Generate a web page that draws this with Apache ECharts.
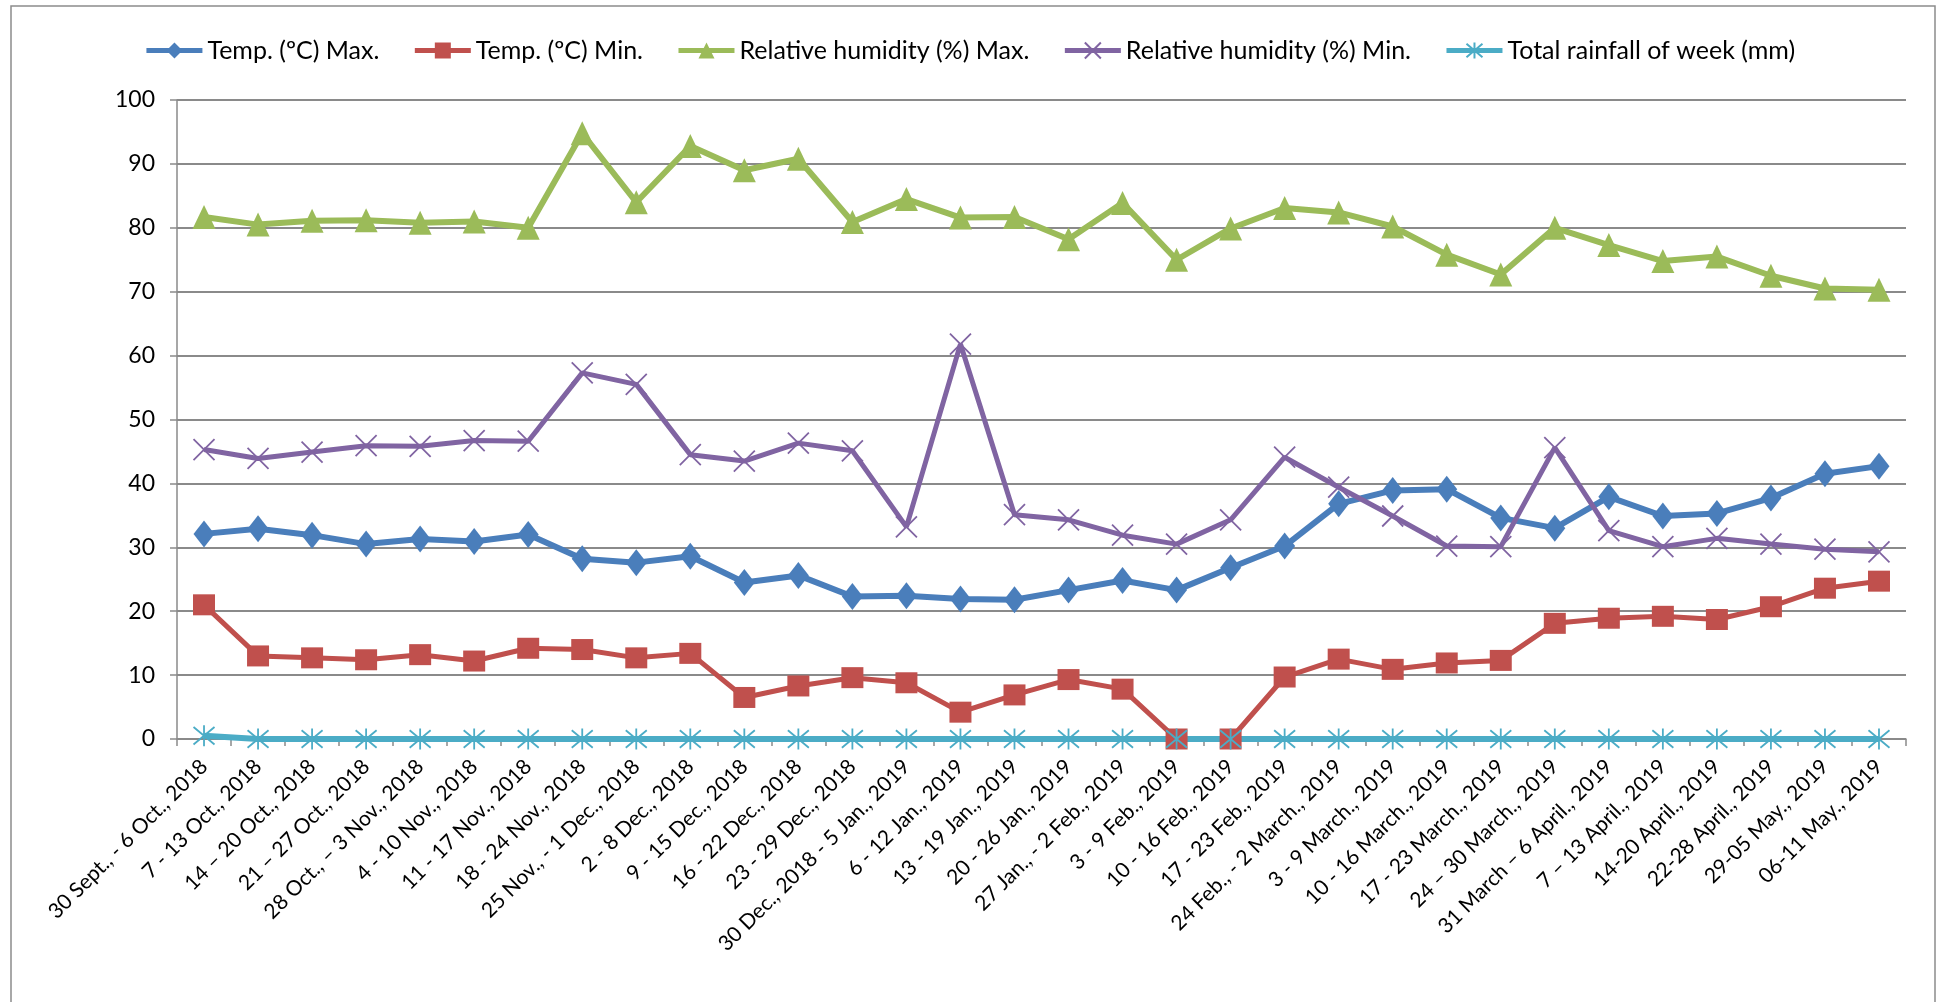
<!DOCTYPE html>
<html>
<head>
<meta charset="utf-8">
<title>Weekly weather</title>
<script src="https://cdn.jsdelivr.net/npm/echarts@6/dist/echarts.min.js"></script>
<style>
  html, body { margin: 0; padding: 0; background: #ffffff; }
  #chart { width: 1939px; height: 1002px; }
</style>
</head>
<body>
<div id="chart"></div>
<script>
// Standard meteorological weeks
const weeks = [
  '30 Sept., - 6 Oct., 2018', '7 - 13 Oct., 2018', '14 – 20 Oct., 2018', '21 – 27 Oct., 2018',
  '28 Oct., – 3 Nov., 2018', '4 - 10 Nov., 2018', '11 - 17 Nov., 2018', '18 - 24 Nov., 2018',
  '25 Nov., - 1 Dec., 2018', '2 - 8 Dec., 2018', '9 - 15 Dec., 2018', '16 - 22 Dec., 2018',
  '23 - 29 Dec., 2018', '30 Dec., 2018 - 5 Jan., 2019', '6 - 12 Jan., 2019', '13 - 19 Jan., 2019',
  '20 - 26 Jan., 2019', '27 Jan., - 2 Feb., 2019', '3 - 9 Feb., 2019', '10 - 16 Feb., 2019',
  '17 - 23 Feb., 2019', '24 Feb., - 2 March., 2019', '3 - 9 March., 2019', '10 - 16 March., 2019',
  '17 - 23 March., 2019', '24 – 30 March., 2019', '31 March – 6 April., 2019', '7 – 13 April., 2019',
  '14-20 April., 2019', '22-28 April., 2019', '29-05 May., 2019', '06-11 May., 2019'
];

const tempMax = [32.1, 32.9, 31.9, 30.5, 31.3, 30.9, 32.0, 28.2, 27.6, 28.6, 24.5, 25.6,
  22.3, 22.4, 21.9, 21.8, 23.3, 24.8, 23.3, 26.8, 30.2, 36.8, 38.9, 39.1,
  34.6, 33.0, 37.9, 34.9, 35.3, 37.7, 41.5, 42.7];

const tempMin = [21.0, 13.0, 12.7, 12.4, 13.2, 12.2, 14.2, 14.0, 12.7, 13.4, 6.5, 8.3,
  9.6, 8.8, 4.2, 6.9, 9.3, 7.8, 0, 0, 9.7, 12.5, 10.9, 11.9,
  12.3, 18.1, 18.9, 19.2, 18.7, 20.7, 23.6, 24.7];

const rhMax = [81.7, 80.5, 81.1, 81.2, 80.8, 81.0, 80.0, 94.8, 84.0, 92.8, 89.0, 90.8,
  80.9, 84.5, 81.6, 81.7, 78.2, 83.9, 75.0, 79.9, 83.1, 82.4, 80.2, 75.8,
  72.7, 80.0, 77.3, 74.8, 75.5, 72.5, 70.5, 70.3];

const rhMin = [45.3, 43.9, 44.9, 45.9, 45.8, 46.7, 46.6, 57.3, 55.5, 44.5, 43.5, 46.3,
  45.1, 33.2, 61.8, 35.1, 34.3, 31.9, 30.5, 34.3, 44.1, 39.4, 34.9, 30.2,
  30.1, 45.6, 32.6, 30.1, 31.4, 30.5, 29.7, 29.3];

const rainfall = [0.5, 0, 0, 0, 0, 0, 0, 0, 0, 0, 0, 0,
  0, 0, 0, 0, 0, 0, 0, 0, 0, 0, 0, 0,
  0, 0, 0, 0, 0, 0, 0, 0];

const yTicks = { min: 0, max: 100, step: 10 };

const FONT = 'Lato, "Open Sans", "Liberation Sans", sans-serif';
const GRID_GRAY = '#8a8a8a';

const crossPath = 'path://M0,0L20,20M20,0L0,20';
const starPath = 'path://M0,0L20,20M20,0L0,20M10,-2L10,22';

function strokedSymbolSeries(name, data, color, path, width) {
  return {
    name: name,
    type: 'line',
    data: data,
    color: color,
    symbol: path,
    symbolSize: 21,
    showAllSymbol: true,
    itemStyle: { color: 'rgba(0,0,0,0)', borderColor: color, borderWidth: 1.8 },
    lineStyle: { color: color, width: width },
    emphasis: { disabled: true }
  };
}

const chart = echarts.init(document.getElementById('chart'), null, { renderer: 'canvas' });

chart.setOption({
  animation: false,
  backgroundColor: '#ffffff',
  textStyle: { fontFamily: FONT, color: '#000000' },
  graphic: [{
    type: 'rect',
    shape: { x: 11, y: 6, width: 1924, height: 1020 },
    style: { fill: 'none', stroke: '#8c8c8c', lineWidth: 1.5 },
    silent: true,
    z: -1
  }],
  legend: {
    top: 33,
    left: 'center',
    itemWidth: 56,
    itemHeight: 20,
    itemGap: 33,
    lineStyle: { width: 5 },
    textStyle: { fontFamily: FONT, fontSize: 25, color: '#000000' },
    data: [
      'Temp. (ºC) Max.', 'Temp. (ºC) Min.', 'Relative humidity (%) Max.',
      'Relative humidity (%) Min.', 'Total rainfall of week (mm)'
    ]
  },
  grid: { left: 177, right: 33, top: 100, bottom: 263, containLabel: false },
  xAxis: {
    type: 'category',
    data: weeks,
    boundaryGap: true,
    axisLine: { lineStyle: { color: GRID_GRAY, width: 1.5 } },
    axisTick: { show: true, length: 7, lineStyle: { color: GRID_GRAY, width: 1.5 } },
    axisLabel: {
      interval: 0,
      rotate: 45,
      margin: 24,
      fontFamily: FONT,
      fontSize: 21,
      color: '#000000'
    }
  },
  yAxis: {
    type: 'value',
    min: yTicks.min,
    max: yTicks.max,
    interval: yTicks.step,
    axisLine: { show: true, lineStyle: { color: GRID_GRAY, width: 1.5 } },
    axisTick: { show: true, length: 7, lineStyle: { color: GRID_GRAY, width: 1.5 } },
    splitLine: { show: true, lineStyle: { color: GRID_GRAY, width: 1.8 } },
    axisLabel: { margin: 22, fontFamily: FONT, fontSize: 23, color: '#000000' }
  },
  series: [
    {
      name: 'Temp. (ºC) Max.',
      type: 'line',
      data: tempMax,
      color: '#4A7EBB',
      symbol: 'diamond',
      symbolSize: [21, 27],
      lineStyle: { width: 6 },
      emphasis: { disabled: true }
    },
    {
      name: 'Temp. (ºC) Min.',
      type: 'line',
      data: tempMin,
      color: '#C0504D',
      symbol: 'rect',
      symbolSize: [22, 21],
      lineStyle: { width: 5 },
      emphasis: { disabled: true }
    },
    {
      name: 'Relative humidity (%) Max.',
      type: 'line',
      data: rhMax,
      color: '#9BBB59',
      symbol: 'triangle',
      symbolSize: [23, 24],
      lineStyle: { width: 6 },
      emphasis: { disabled: true }
    },
    strokedSymbolSeries('Relative humidity (%) Min.', rhMin, '#8064A2', crossPath, 5),
    strokedSymbolSeries('Total rainfall of week (mm)', rainfall, '#4BACC6', starPath, 6)
  ]
});
</script>
</body>
</html>
